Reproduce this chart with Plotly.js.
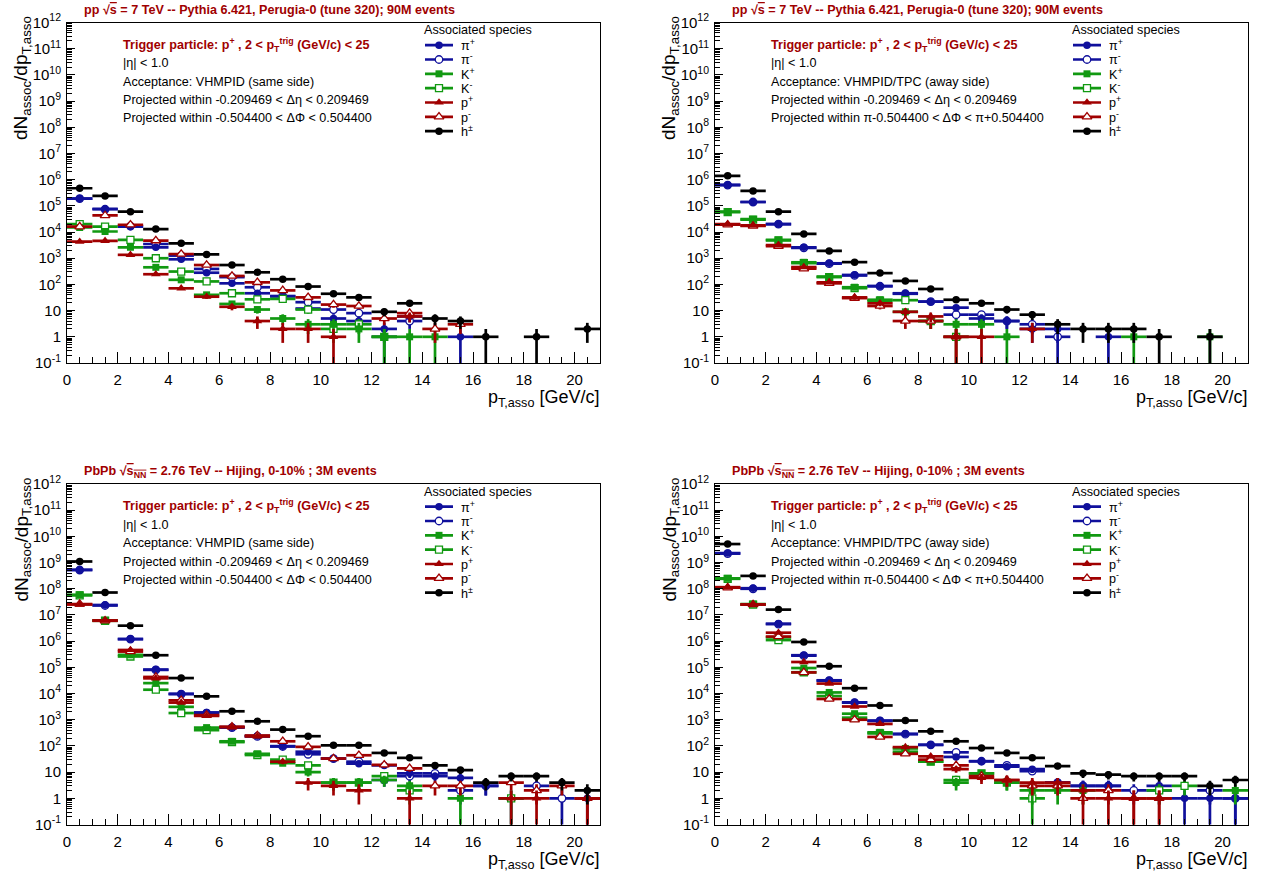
<!DOCTYPE html>
<html><head><meta charset="utf-8">
<script src="https://cdn.plot.ly/plotly-3.0.1.min.js"></script>
<style>html,body{margin:0;padding:0;background:#fff}#chart{width:1262px;height:878px}</style>
</head><body><div id="chart"></div>
<script>
// ---------------- data ----------------
const ptBins = [0.5,1.5,2.5,3.5,4.5,5.5,6.5,7.5,8.5,9.5,10.5,11.5,12.5,13.5,14.5,15.5,16.5,17.5,18.5,19.5,20.5];

const speciesLabels = ['π<sup>+</sup>','π<sup>-</sup>','K<sup>+</sup>','K<sup>-</sup>','p<sup>+</sup>','p<sup>-</sup>','h<sup>±</sup>'];

// pp 7 TeV, same side
const ppSame_piPlus  = [1.9e5,7.6e4,1.6e4,2.6e3,910,280,110,46,35,12,5,4,2,6,null,1,null,null,null,null,null];
const ppSame_piMinus = [1.9e5,7.4e4,1.7e4,3.5e3,1260,390,190,78,36,21,11,8,1,4,null,null,null,null,null,null,null];
const ppSame_KPlus   = [1.5e4,1.05e4,2.6e3,450,150,40,18,11,5,3,3,2,1,1,1,null,null,null,null,null,null];
const ppSame_KMinus  = [2.0e4,1.6e4,5.0e3,1.0e3,310,130,46,27,28,11,2,3,1,null,null,null,null,null,null,null,null];
const ppSame_pPlus   = [4.3e3,4.6e3,1.35e3,245,71,34,14,4,2,2,1,null,null,6,null,null,null,null,null,null,null];
const ppSame_pMinus  = [1.6e4,4.3e4,1.9e4,4.7e3,1450,550,210,120,59,32,17,15,5,8,2,3,null,null,null,null,null];
const ppSame_hCharged= [4.7e5,2.4e5,6.0e4,1.3e4,3.7e3,1.4e3,550,290,158,83,44,32,9,19,5,4,1,null,1,null,2];

// pp 7 TeV, away side
const ppAway_piPlus  = [6.3e5,1.4e5,2.0e4,2.6e3,640,230,87,46,22,13,5,4,2,2,null,1,null,null,null,null,null];
const ppAway_piMinus = [6.2e5,1.4e5,2.0e4,2.5e3,620,220,85,44,22,7,7,4,3,1,null,null,null,null,null,null,null];
const ppAway_KPlus   = [6.0e4,3.1e4,5.0e3,700,200,78,26,9,4,3,3,1,null,null,null,null,1,null,null,1,null];
const ppAway_KMinus  = [5.8e4,3.0e4,4.8e3,650,190,72,24,25,4,1,null,null,null,null,null,null,null,null,null,null,null];
const ppAway_pPlus   = [2.0e4,1.8e4,3.2e3,460,120,32,19,9,6,1,1,null,2,null,null,null,null,null,null,null,null];
const ppAway_pMinus  = [1.9e4,1.7e4,2.9e3,400,110,30,15,4,4,1,null,null,null,null,null,null,null,null,null,null,null];
const ppAway_hCharged= [1.4e6,3.7e5,6.0e4,8.5e3,1.9e3,710,270,136,67,26,19,11,7,3,2,2,2,1,null,1,null];

// PbPb 2.76 TeV, same side
const pbSame_piPlus  = [5.3e8,2.4e7,1.2e6,8.2e4,9.8e3,1.9e3,520,240,98,60,33,21,18,9,7,6,3,1,null,null,1];
const pbSame_piMinus = [5.2e8,2.3e7,1.2e6,8.0e4,9.5e3,1.8e3,500,230,95,48,33,25,5,7,9,2,3,null,3,1,null];
const pbSame_KPlus   = [5.9e7,6.2e6,3.0e5,2.5e4,3.1e3,500,150,50,22,10,4,4,5,3,null,1,null,null,null,null,null];
const pbSame_KMinus  = [5.6e7,6.0e6,2.6e5,1.4e4,1.8e3,400,140,45,30,18,4,4,7,2,null,null,null,1,null,null,null];
const pbSame_pPlus   = [2.5e7,6.2e6,4.6e5,3.8e4,4.5e3,1.4e3,520,230,25,4,3,2,null,1,null,null,null,1,1,null,1];
const pbSame_pMinus  = [2.6e7,6.0e6,4.0e5,4.3e4,5.5e3,1.5e3,540,250,150,92,33,44,19,14,3,3,null,4,2,3,1];
const pbSame_hCharged= [1.1e9,7.2e7,3.9e6,2.9e5,3.9e4,7.8e3,2.1e3,870,420,235,105,105,54,35,18,12,4,7,7,4,2];

// PbPb 2.76 TeV, away side
const pbAway_piPlus  = [2.3e9,1.05e8,4.6e6,2.9e5,3.2e4,4.6e3,930,290,110,38,26,16,13,4,3,3,null,3,1,1,1];
const pbAway_piMinus = [2.2e9,1.0e8,4.5e6,2.8e5,3.1e4,4.5e3,900,280,110,57,26,18,11,4,3,3,2,2,null,2,1];
const pbAway_KPlus   = [2.5e8,2.6e7,1.4e6,9.4e4,1.1e4,1.7e3,330,80,25,4,9,4,2,2,2,null,null,null,null,null,2];
const pbAway_KMinus  = [2.4e8,2.5e7,1.1e6,6.5e4,8.0e3,1.2e3,300,60,25,5,9,4,1,null,null,null,null,2,3,null,null];
const pbAway_pPlus   = [1.15e8,2.5e7,2.1e6,1.6e5,2.4e4,3.2e3,690,90,40,13,6,5,4,4,2,1,1,1,null,null,null];
const pbAway_pMinus  = [1.1e8,2.5e7,1.5e6,6.4e4,6.2e3,1.0e3,220,50,30,18,7,5,3,3,1,2,1,1,null,null,null];
const pbAway_hCharged= [5.1e9,3.1e8,1.6e7,9.3e5,1.1e5,1.6e4,3.5e3,930,360,150,83,54,35,17,9,8,7,7,7,3,5];

// tick labels
const yTickValues = [1e-1,1,1e1,1e2,1e3,1e4,1e5,1e6,1e7,1e8,1e9,1e10,1e11,1e12];
const yTickLabels = ['10<sup>-1</sup>','1','10','10<sup>2</sup>','10<sup>3</sup>','10<sup>4</sup>','10<sup>5</sup>','10<sup>6</sup>','10<sup>7</sup>','10<sup>8</sup>','10<sup>9</sup>','10<sup>10</sup>','10<sup>11</sup>','10<sup>12</sup>'];

// texts
const TITLE_PP = 'pp √<span style="text-decoration:overline">s</span> = 7 TeV -- Pythia 6.421, Perugia-0 (tune 320); 90M events';
const TITLE_PB = 'PbPb √<span style="text-decoration:overline">s<sub>NN</sub></span> = 2.76 TeV -- Hijing, 0-10% ; 3M events';
const TRIGGER = 'Trigger particle: p<sup>+</sup> , 2 &lt; p<sub>T</sub><sup>trig</sup> (GeV/c) &lt; 25';
const ETA = '|η| &lt; 1.0';
const ACC_SAME = 'Acceptance: VHMPID (same side)';
const ACC_AWAY = 'Acceptance: VHMPID/TPC (away side)';
const DETA = 'Projected within -0.209469 &lt; Δη &lt; 0.209469';
const DPHI_SAME = 'Projected within -0.504400 &lt; ΔΦ &lt; 0.504400';
const DPHI_AWAY = 'Projected within π-0.504400 &lt; ΔΦ &lt; π+0.504400';
const LEG_TITLE = 'Associated species';
const Y_TITLE = 'dN<sub>assoc</sub>/dp<sub>T,asso</sub>';
const X_TITLE = 'p<sub>T,asso</sub> [GeV/c]';

// ---------------- style ----------------
const FONT = '"Liberation Sans", Arial, Helvetica, sans-serif';
const RED = '#a00000';
const speciesColors = ['#10109c','#10109c','#119911','#119911','#a00000','#a00000','#000000'];
const speciesSymbols = ['circle','circle','square','square','triangle-up','triangle-up','circle'];
const speciesOpen = [false,true,false,true,false,true,false];
const speciesSize = [7.5,7.5,7,7,8.5,8.5,7.5];
// drawing order: open (negative) partner first so that the filled marker sits on top where they coincide
const drawOrder = [1,0,3,2,5,4,6];

const W = 1262, H = 878;
const px = x => x / W;
const py = y => 1 - y / H;
const FR = {left:67, right:600, top:22.5, bottom:363};

const panels = [
  {series:[ppSame_piPlus,ppSame_piMinus,ppSame_KPlus,ppSame_KMinus,ppSame_pPlus,ppSame_pMinus,ppSame_hCharged], dx:0, dy:0, title:TITLE_PP, acc:ACC_SAME, dphi:DPHI_SAME},
  {series:[ppAway_piPlus,ppAway_piMinus,ppAway_KPlus,ppAway_KMinus,ppAway_pPlus,ppAway_pMinus,ppAway_hCharged], dx:648, dy:0, title:TITLE_PP, acc:ACC_AWAY, dphi:DPHI_AWAY},
  {series:[pbSame_piPlus,pbSame_piMinus,pbSame_KPlus,pbSame_KMinus,pbSame_pPlus,pbSame_pMinus,pbSame_hCharged], dx:0, dy:461.5, title:TITLE_PB, acc:ACC_SAME, dphi:DPHI_SAME},
  {series:[pbAway_piPlus,pbAway_piMinus,pbAway_KPlus,pbAway_KMinus,pbAway_pPlus,pbAway_pMinus,pbAway_hCharged], dx:648, dy:461.5, title:TITLE_PB, acc:ACC_AWAY, dphi:DPHI_AWAY}
];

function markerFor(s) {
  return speciesOpen[s]
    ? {symbol: speciesSymbols[s], size: speciesSize[s], color: '#ffffff', line: {color: speciesColors[s], width: 1.3}}
    : {symbol: speciesSymbols[s], size: speciesSize[s], color: speciesColors[s], line: {width: 0}};
}

const minorY = [];
for (let d = -1; d < 12; d++) for (let m = 2; m <= 9; m++) minorY.push(m * Math.pow(10, d));

const traces = [];
const annotations = [];
const layout = {
  width: W, height: H, margin: {l:0, r:0, t:0, b:0},
  paper_bgcolor: '#ffffff', plot_bgcolor: 'rgba(0,0,0,0)',
  showlegend: false,
  font: {family: FONT, size: 13, color: '#000'}
};

function ann(text, x, y, opts) {
  annotations.push(Object.assign({
    text: text, x: px(x), y: py(y), xref: 'paper', yref: 'paper',
    showarrow: false, xanchor: 'left', yanchor: 'middle',
    font: {family: FONT, size: 12.6, color: '#000'}
  }, opts || {}));
}

panels.forEach((P, k) => {
  const sfx = k === 0 ? '' : String(k + 1);
  const lsfx = String(k + 5);
  const dx = P.dx, dy = P.dy;

  layout['xaxis' + sfx] = {
    domain: [px(FR.left + dx), px(FR.right + dx)], anchor: 'y' + sfx,
    range: [0, 21], tick0: 0, dtick: 2, ticks: 'inside', ticklen: 11, tickwidth: 1, tickcolor: '#000',
    minor: {dtick: 0.5, tick0: 0, ticks: 'inside', ticklen: 6, tickwidth: 1, tickcolor: '#000'},
    showline: true, mirror: true, linecolor: '#000', linewidth: 1,
    showgrid: false, zeroline: false, ticklabelstandoff: 3,
    tickfont: {family: FONT, size: 15, color: '#000'}, fixedrange: true
  };
  layout['yaxis' + sfx] = {
    domain: [py(FR.bottom + dy), py(FR.top + dy)], anchor: 'x' + sfx,
    type: 'log', range: [-1, 12], tickmode: 'array', tickvals: yTickValues, ticktext: yTickLabels,
    ticks: 'inside', ticklen: 8, tickwidth: 1, tickcolor: '#000',
    minor: {tickmode: 'array', tickvals: minorY, ticks: 'inside', ticklen: 4.5, tickwidth: 1, tickcolor: '#000'},
    showline: true, mirror: true, linecolor: '#000', linewidth: 1,
    showgrid: false, zeroline: false, ticklabelstandoff: 2,
    tickfont: {family: FONT, size: 15, color: '#000'}, fixedrange: true
  };

  layout['xaxis' + lsfx] = {domain: [px(425 + dx), px(453 + dx)], anchor: 'y' + lsfx, range: [0, 1], visible: false, fixedrange: true};
  layout['yaxis' + lsfx] = {domain: [py(138.3 + dy), py(38 + dy)], anchor: 'x' + lsfx, range: [7, 0], visible: false, fixedrange: true};

  drawOrder.forEach(s => {
    const vals = P.series[s];
    const col = speciesColors[s];
    traces.push({
      type: 'scatter', mode: 'markers', x: ptBins, y: vals,
      xaxis: 'x' + sfx, yaxis: 'y' + sfx,
      marker: markerFor(s),
      error_x: {type: 'constant', value: 0.5, thickness: 2.7, width: 0, color: col},
      error_y: {type: 'data', array: vals.map(v => v == null ? null : Math.sqrt(v)), thickness: 2.7, width: 0, color: col},
      hoverinfo: 'skip', cliponaxis: true, showlegend: false
    });
  });

  P.series.forEach((vals, s) => {
    const col = speciesColors[s];
    traces.push({
      type: 'scatter', mode: 'markers', x: [0.5], y: [s + 0.5],
      xaxis: 'x' + lsfx, yaxis: 'y' + lsfx,
      marker: markerFor(s),
      error_x: {type: 'constant', value: 0.5, thickness: 2.7, width: 0, color: col},
      hoverinfo: 'skip', cliponaxis: false, showlegend: false
    });
    ann(speciesLabels[s], 459 + dx, 45.15 + s * 14.33 + dy);
  });

  ann(P.title, 82 + dx, 10 + dy, {font: {family: FONT, size: 12.6, color: RED, weight: 'bold'}});
  ann('<b>' + TRIGGER + '</b>', 121 + dx, 45 + dy, {font: {family: FONT, size: 12.6, color: RED}});
  ann(ETA, 121 + dx, 63.3 + dy);
  ann(P.acc, 121 + dx, 81.7 + dy);
  ann(DETA, 121 + dx, 100 + dy);
  ann(P.dphi, 121 + dx, 118.3 + dy);
  ann(LEG_TITLE, 422 + dx, 30 + dy);
  ann(Y_TITLE, 22 + dx, 14 + dy, {textangle: -90, xanchor: 'center', yanchor: 'top', font: {family: FONT, size: 19, color: '#000'}});
  ann(X_TITLE, 601 + dx, 385 + dy, {xanchor: 'right', yanchor: 'top', font: {family: FONT, size: 18, color: '#000'}});
});

layout.annotations = annotations;

Plotly.newPlot('chart', traces, layout, {displayModeBar: false, staticPlot: true});
</script>
</body></html>
